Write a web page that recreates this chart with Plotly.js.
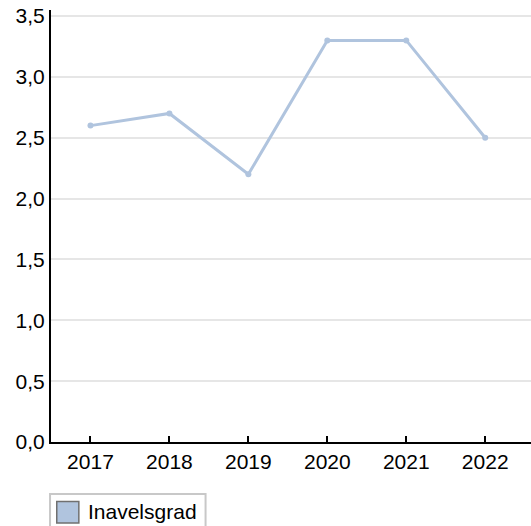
<!DOCTYPE html>
<html>
<head>
<meta charset="utf-8">
<script src="https://cdn.plot.ly/plotly-3.0.1.min.js"></script>
<style>html,body{margin:0;padding:0;background:#fff;}#chart{width:531px;height:526px;}</style>
</head>
<body>
<div id="chart"></div>
<script>
const years = ["2017", "2018", "2019", "2020", "2021", "2022"];
const inavelsgrad = [2.6, 2.7, 2.2, 3.3, 3.3, 2.5];
const seriesName = "Inavelsgrad";
const yTicks = [0, 0.5, 1.0, 1.5, 2.0, 2.5, 3.0, 3.5];

const color = "#b0c4de";
const fontFam = "'Liberation Sans', Arial, sans-serif";
const fs = 21;

const trace = {
  type: "scatter",
  mode: "lines+markers",
  x: years,
  y: inavelsgrad,
  name: seriesName,
  line: {color: color, width: 3},
  marker: {color: color, size: 6},
  showlegend: false,
  hoverinfo: "x+y"
};

const layout = {
  width: 531,
  height: 526,
  margin: {l: 51, r: 0, t: 10, b: 84, pad: 0},
  paper_bgcolor: "#fff",
  plot_bgcolor: "#fff",
  separators: ", ",
  font: {family: fontFam, size: fs, color: "#000"},
  showlegend: false,
  xaxis: {
    type: "category",
    range: [-0.5, 5.58],
    showgrid: false,
    zeroline: false,
    showline: true,
    linecolor: "#000",
    linewidth: 2,
    ticks: "inside",
    ticklen: 6,
    tickwidth: 2,
    tickcolor: "#000",
    tickfont: {family: fontFam, size: fs, color: "#000"},
    fixedrange: true
  },
  yaxis: {
    range: [0, 3.55],
    tickvals: yTicks,
    tickformat: ".1f",
    showgrid: true,
    gridcolor: "#e6e6e6",
    gridwidth: 2,
    zeroline: false,
    showline: true,
    linecolor: "#000",
    linewidth: 2,
    ticks: "",
    tickfont: {family: fontFam, size: fs, color: "#000"},
    fixedrange: true
  },
  shapes: [
    {type: "rect", xref: "paper", yref: "paper", x0: -0.002, x1: 0.322, y0: -0.21, y1: -0.1204,
     line: {color: "#c8c8c8", width: 2}, fillcolor: "#fff", layer: "above"},
    {type: "rect", xref: "paper", yref: "paper", x0: 0.012, x1: 0.058, y0: -0.1875, y1: -0.138,
     line: {color: "#707070", width: 1.5}, fillcolor: color, layer: "above"}
  ],
  annotations: [
    {xref: "paper", yref: "paper", x: 0.072, y: -0.161, xanchor: "left", yanchor: "middle",
     text: seriesName, showarrow: false, font: {family: fontFam, size: fs, color: "#000"}}
  ]
};

Plotly.newPlot("chart", [trace], layout, {displayModeBar: false, staticPlot: true});
</script>
</body>
</html>
